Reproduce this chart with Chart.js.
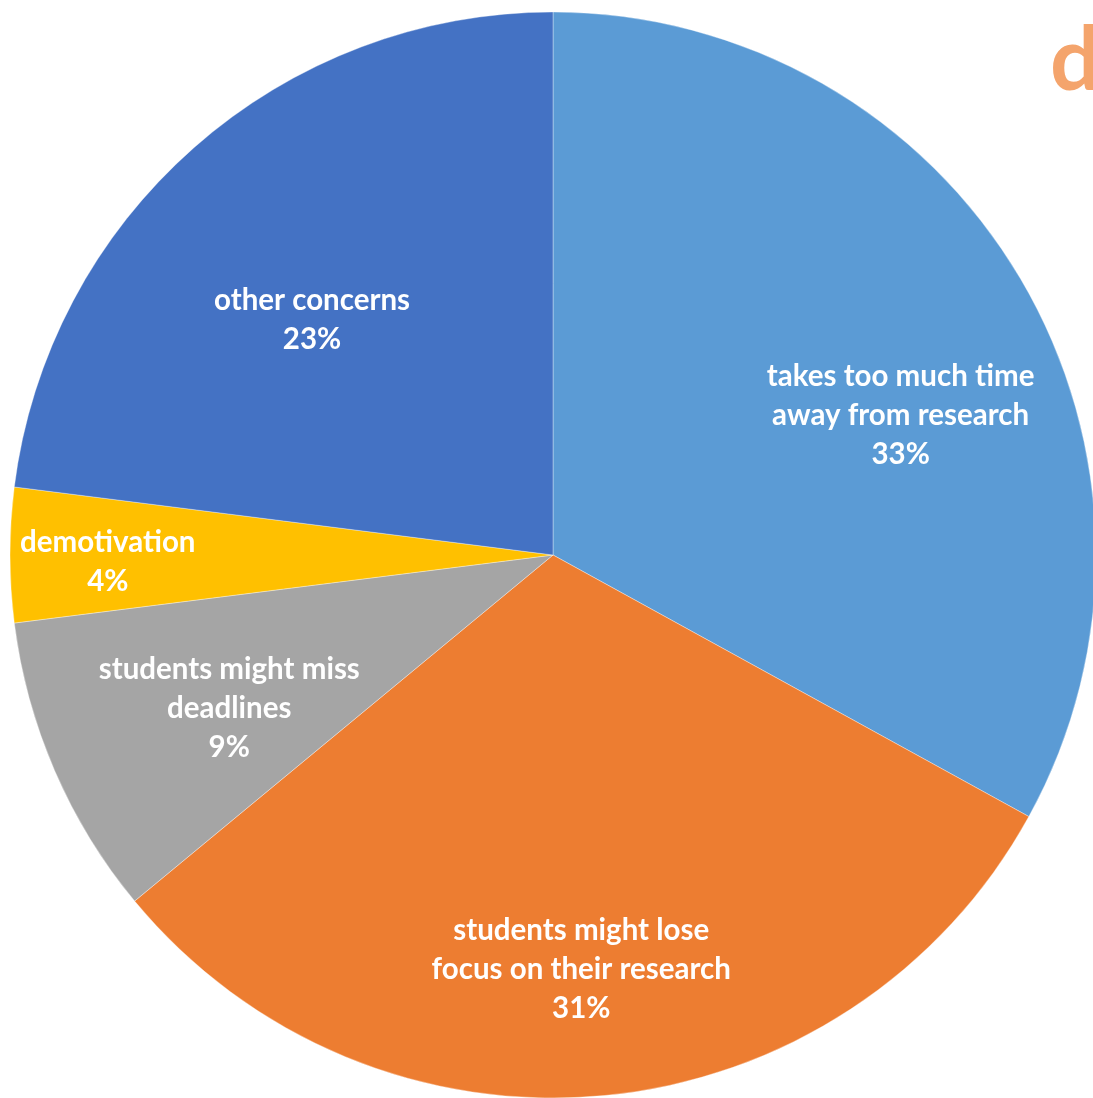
<!DOCTYPE html>
<html>
<head>
<meta charset="utf-8">
<script src="https://cdn.jsdelivr.net/npm/chart.js@4"></script>
<style>
  html, body { margin: 0; padding: 0; background: #fff; overflow: hidden; }
  #wrap { position: relative; width: 1093px; height: 1098px; }
</style>
</head>
<body>
<div id="wrap"><canvas id="pieChart"></canvas></div>
<script>
const categories = [
  'takes too much time away from research',
  'students might lose focus on their research',
  'students might miss deadlines',
  'demotivation',
  'other concerns'
];
const percentages = [33, 31, 9, 4, 23];
const labelLines = [
  ['takes too much time', 'away from research'],
  ['students might lose', 'focus on their research'],
  ['students might miss', 'deadlines'],
  ['demotivation'],
  ['other concerns']
];
const sliceColors = ['#5B9BD5', '#ED7D31', '#A5A5A5', '#FFC000', '#4472C4'];

// label placement: fraction of radius and angle nudge (deg) from slice middle
const labelRadius = [0.69, 0.765, 0.66, 0.82, 0.62];
const labelNudge = [8.7, 1.5, -2, -0.9, -4.3];

const pieLabels = {
  id: 'pieLabels',
  afterDatasetsDraw(chart) {
    const ctx = chart.ctx;
    const meta = chart.getDatasetMeta(0);
    ctx.save();
    ctx.fillStyle = '#ffffff';
    ctx.font = 'bold 29.5px Lato';
    ctx.textAlign = 'center';
    ctx.textBaseline = 'middle';
    meta.data.forEach((arc, i) => {
      const mid = (arc.startAngle + arc.endAngle) / 2 + labelNudge[i] * Math.PI / 180;
      const r = arc.outerRadius * labelRadius[i];
      const x = arc.x + Math.cos(mid) * r;
      const y = arc.y + Math.sin(mid) * r;
      const lines = labelLines[i].concat([percentages[i] + '%']);
      const lh = 39;
      lines.forEach((t, k) => {
        ctx.fillText(t, x, y + (k - (lines.length - 1) / 2) * lh);
      });
    });
    // panel letter
    ctx.fillStyle = '#F4A46C';
    ctx.font = 'bold 88px Lato';
    ctx.textAlign = 'left';
    ctx.textBaseline = 'alphabetic';
    ctx.fillText('d', 1050, 90);
    ctx.restore();
  }
};

new Chart(document.getElementById('pieChart'), {
  type: 'pie',
  data: {
    labels: categories,
    datasets: [{
      data: percentages,
      backgroundColor: sliceColors,
      borderColor: 'rgba(255,255,255,0.35)',
      borderWidth: 1
    }]
  },
  options: {
    responsive: true,
    maintainAspectRatio: false,
    animation: false,
    radius: 543,
    layout: { padding: { left: 13, right: 0, top: 12, bottom: 0 } },
    plugins: {
      legend: { display: false },
      tooltip: { enabled: false }
    }
  },
  plugins: [pieLabels]
});
</script>
</body>
</html>
